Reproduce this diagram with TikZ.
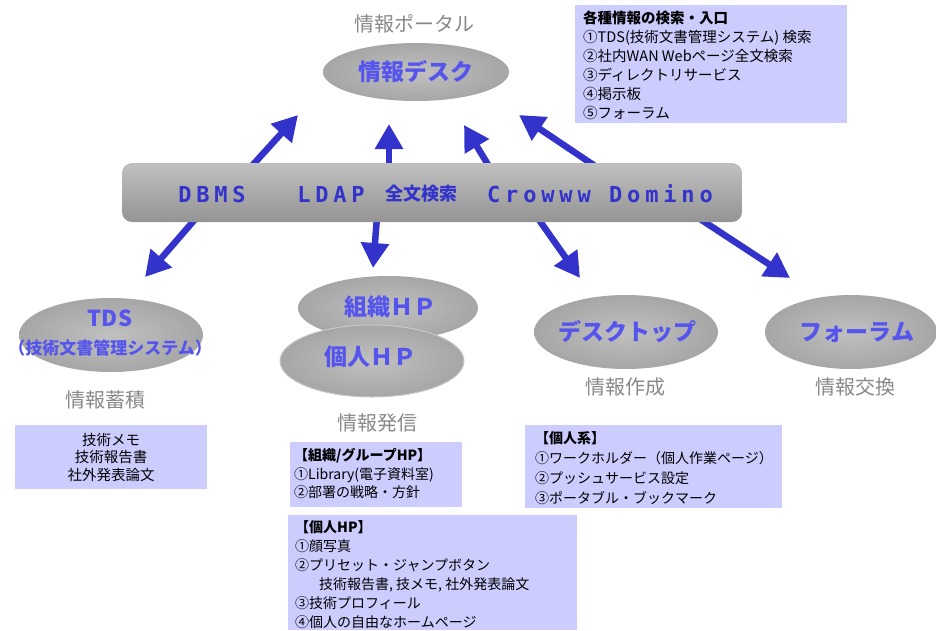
\documentclass[tikz,border=0pt]{standalone}
\usepackage{fontspec}
\newfontfamily\jp{Noto Sans CJK JP}
\newfontfamily\monob{DejaVu Sans Mono}[LetterSpace=22]
\usetikzlibrary{shapes.geometric,arrows.meta,calc}
\definecolor{arrowblue}{RGB}{51,51,204}
\definecolor{elltext}{RGB}{85,85,238}
\definecolor{labelgray}{RGB}{136,136,136}
\definecolor{boxfill}{RGB}{204,204,255}
\definecolor{ellin}{RGB}{192,192,192}
\definecolor{ellout}{RGB}{166,166,166}
\definecolor{bartop}{RGB}{192,192,192}
\definecolor{barbot}{RGB}{148,148,148}
\tikzset{
  ell/.style={ellipse, inner sep=0pt, shading=radial, inner color=ellin, outer color=ellout},
  elltxt/.style={inner sep=0pt, text=elltext, font={\jp\bfseries\fontsize{23}{26}\selectfont}},
  graylbl/.style={inner sep=0pt, text=labelgray, font={\jp\fontsize{20}{22}\selectfont}},
  barbox/.style={rectangle, rounded corners=10pt, inner sep=0pt, top color=bartop, bottom color=barbot},
  bartxt/.style={inner sep=0pt, text=arrowblue, font={\monob\bfseries\fontsize{22}{24}\selectfont}},
  barjp/.style={inner sep=0pt, text=arrowblue, font={\jp\bfseries\fontsize{18}{20}\selectfont}},
  infobox/.style={rectangle, fill=boxfill, inner sep=0pt},
  infotxt/.style={inner sep=0pt, anchor=north west, align=left, font={\jp\fontsize{14.5}{19}\selectfont}},
  arr/.style={line width=6.5pt, draw=arrowblue, -{Triangle[length=25pt,width=27pt]}},
}
\begin{document}
\begin{tikzpicture}[x=1pt,y=-1pt]
\useasboundingbox (0,0) rectangle (936,630);
% arrow end coordinates
\coordinate (a1s) at (250,168); \coordinate (a1e) at (298,115);
\coordinate (a2s) at (389,168); \coordinate (a2e) at (389,124);
\coordinate (a3s) at (490,168); \coordinate (a3e) at (464,125);
\coordinate (a4s) at (598,168); \coordinate (a4e) at (519,115);
\coordinate (a5s) at (197,217); \coordinate (a5e) at (145,277);
\coordinate (a6s) at (377,217); \coordinate (a6e) at (373,268);
\coordinate (a7s) at (537,217); \coordinate (a7e) at (580,278);
\coordinate (a8s) at (697,217); \coordinate (a8e) at (790,278);
\foreach \i in {1,...,8} {\draw[arr] (a\i s) -- (a\i e);}
% bar
\node[barbox, minimum width=620pt, minimum height=59pt] (bar) at (432,192.5) {};
\node[bartxt] (dbms) at (212,194) {DBMS};
\node[bartxt] (ldap) at (331,194) {LDAP};
\node[barjp] (zenbun) at (421,194) {全文検索};
\node[bartxt] (crowww) at (539,194) {Crowww};
\node[bartxt] (domino) at (661,194) {Domino};
% portal
\node[graylbl] (portal) at (414,24) {情報ポータル};
\node[ell, minimum width=186pt, minimum height=58pt] (desk) at (416,72) {};
\node[elltxt] (deskt) at (desk.center) {情報デスク};
% top right box
\node[infobox, minimum width=272pt, minimum height=118pt, anchor=north west] (box1) at (575,5) {};
\node[infotxt] (box1t) at ($(box1.north west)+(8,6)$) {{\bfseries 各種情報の検索・入口}\\①TDS(技術文書管理システム) 検索\\②社内WAN Webページ全文検索\\③ディレクトリサービス\\④掲示板\\⑤フォーラム};
% TDS
\node[ell, minimum width=184pt, minimum height=74pt] (tds) at (111,335) {};
\node[elltxt, font={\jp\bfseries\fontsize{22}{24}\selectfont}] (tdst) at (110,318) {TDS};
\node[elltxt, font={\jp\bfseries\fontsize{17}{20}\selectfont}] (tdssub) at (110,348) {（技術文書管理システム）};
\node[graylbl] (chikuseki) at (105,400) {情報蓄積};
\node[infobox, minimum width=192pt, minimum height=64pt, anchor=north west] (box2) at (15,425) {};
\node[inner sep=0pt, align=center, font={\jp\fontsize{14.5}{17.5}\selectfont}] (box2t) at (box2.center) {技術メモ\\技術報告書\\社外発表論文};
% HP ellipses
\node[ell, minimum width=180pt, minimum height=64pt] (soshiki) at (388,308) {};
\node[elltxt] (soshikit) at (390,307) {組織ＨＰ};
\node[ell, draw={rgb,255:red,200;green,200;blue,200}, line width=1pt, minimum width=184pt, minimum height=72pt] (kojin) at (372,361) {};
\node[elltxt] (kojint) at (370,357) {個人ＨＰ};
\node[graylbl] (hasshin) at (377,423) {情報発信};
\node[infobox, minimum width=172pt, minimum height=65pt, anchor=north west] (box3) at (290,442) {};
\node[infotxt, font={\jp\fontsize{14}{18.5}\selectfont}] (box3t) at ($(box3.north west)+(4,6)$) {{\bfseries 【組織/グループHP】}\\①Library(電子資料室)\\②部署の戦略・方針};
\node[infobox, minimum width=289pt, minimum height=115pt, anchor=north west] (box4) at (288,515) {};
\node[infotxt, font={\jp\fontsize{14}{19}\selectfont}] (box4t) at ($(box4.north west)+(7,5)$) {{\bfseries 【個人HP】}\\①顔写真\\②プリセット・ジャンプボタン\\\hspace*{24pt}技術報告書, 技メモ, 社外発表論文\\③技術プロフィール\\④個人の自由なホームページ};
% desktop
\node[ell, minimum width=184pt, minimum height=74pt] (desktop) at (626,332) {};
\node[elltxt] (desktopt) at (627,332) {デスクトップ};
\node[graylbl] (sakusei) at (625,387) {情報作成};
\node[infobox, minimum width=257pt, minimum height=83pt, anchor=north west] (box5) at (525,425) {};
\node[infotxt, font={\jp\fontsize{14}{20}\selectfont}] (box5t) at ($(box5.north west)+(10,6)$) {{\bfseries 【個人系】}\\①ワークホルダー（個人作業ページ）\\②プッシュサービス設定\\③ポータブル・ブックマーク};
% forum
\node[ell, minimum width=172pt, minimum height=74pt] (forum) at (851,332) {};
\node[elltxt] (forumt) at (857,332) {フォーラム};
\node[graylbl] (koukan) at (855,387) {情報交換};
\end{tikzpicture}
\end{document}
